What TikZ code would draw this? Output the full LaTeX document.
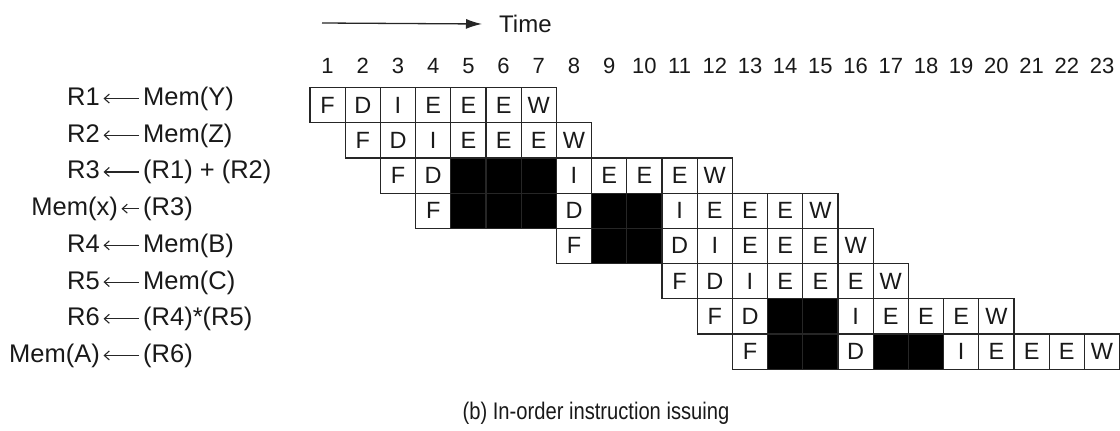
\documentclass[tikz,border=0pt]{standalone}
\usepackage{fontspec}
\setmainfont{Liberation Sans}
\usetikzlibrary{arrows.meta}
\begin{document}
\begin{tikzpicture}[x=1pt,y=-1pt,
  cellbox/.style={draw=black!85, line width=1.2pt, minimum width=35.2pt, minimum height=35.2pt,
    inner sep=0pt, font=\fontsize{23.5}{26}\selectfont, text=black!90},
  blackbox/.style={cellbox, fill=black},
  colnum/.style={font=\fontsize{22}{24}\selectfont, inner sep=0pt, text=black!90},
  lbl/.style={font=\fontsize{25.5}{28}\selectfont, inner sep=0pt, text height=19pt, text depth=5pt, text=black!90},
  captext/.style={font=\fontsize{24}{28}\selectfont, inner sep=0pt, text=black!90},
  assignarrow/.style={line width=1.1pt, draw=black!85, -{Straight Barb[length=5pt,width=9pt]}, shorten >=3.5pt, shorten <=4pt},
  timearrow/.style={line width=1.3pt, draw=black!85, -{Latex[length=16pt,width=10pt]}}
]
\useasboundingbox (0,0) rectangle (1120,431);
% time arrow
\coordinate (ts) at (322,23);
\node[colnum, font=\fontsize{24}{26}\selectfont, anchor=west] (time) at (499,24) {Time};
\draw[timearrow] (ts) -- ([xshift=-17pt]time.west);
% column numbers
\foreach \c in {1,...,23} {
  \node[colnum] (n\c) at ({310+(\c-0.5)*35.2}, 66) {\c};
}
% cells
\foreach \r/\s/\lst in {1/1/{F,D,I,E,E,E,W},
                        2/2/{F,D,I,E,E,E,W},
                        3/3/{F,D,X,X,X,I,E,E,E,W},
                        4/4/{F,X,X,X,D,X,X,I,E,E,E,W},
                        5/8/{F,X,X,D,I,E,E,E,W},
                        6/11/{F,D,I,E,E,E,W},
                        7/12/{F,D,X,X,I,E,E,E,W},
                        8/13/{F,X,X,D,X,X,I,E,E,E,W}} {
  \foreach \ch [count=\i from 0] in \lst {
    \pgfmathtruncatemacro{\col}{\s+\i}
    \if\ch X
      \node[blackbox] (c-\r-\col) at ({310+(\col-0.5)*35.2}, {87.5+(\r-0.5)*35.2}) {};
    \else
      \node[cellbox] (c-\r-\col) at ({310+(\col-0.5)*35.2}, {87.5+(\r-0.5)*35.2}) {\ch};
    \fi
  }
}
% instruction labels
\foreach \r/\a/\b/\xa in {1/R1/{Mem(Y)}/100, 2/R2/{Mem(Z)}/100, 3/R3/{(R1) + (R2)}/100,
                          4/{Mem(x)}/{(R3)}/118, 5/R4/{Mem(B)}/100, 6/R5/{Mem(C)}/100,
                          7/R6/{(R4)*(R5)}/100, 8/{Mem(A)}/{(R6)}/100} {
  \node[lbl, anchor=east] (la\r) at (\xa, {227+36.7*(\r-4.5)}) {\a};
  \node[lbl, anchor=west] (lb\r) at (143, {227+36.7*(\r-4.5)}) {\b};
  \draw[assignarrow] (lb\r.west) -- (la\r.east);
}
% caption
\node[captext] (cap) at (596,413) {\scalebox{0.84}[1]{(b) In-order instruction issuing}};
\end{tikzpicture}
\end{document}
